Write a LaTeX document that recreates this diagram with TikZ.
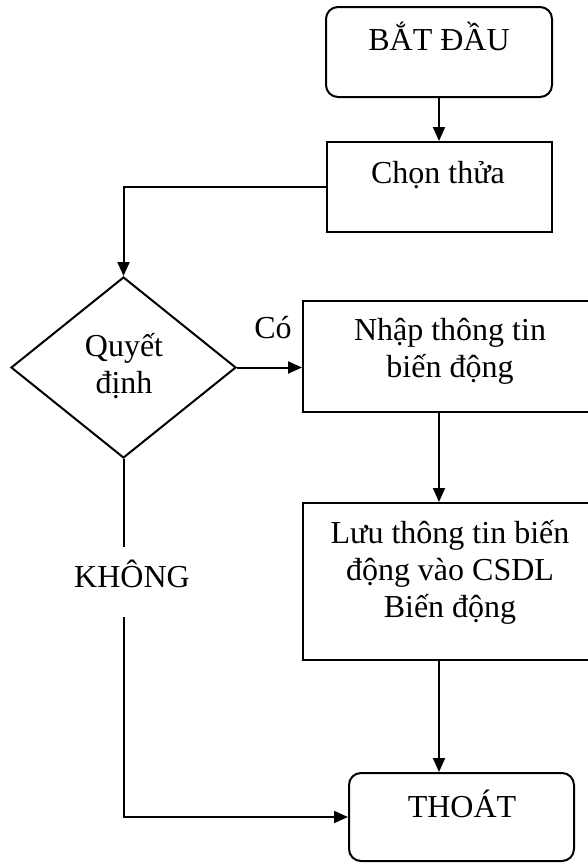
\documentclass[tikz,border=0pt]{standalone}
\usepackage{fontspec}
\setmainfont{Liberation Serif}
\usetikzlibrary{arrows.meta,shapes.geometric}
\begin{document}
\begin{tikzpicture}[x=1pt,y=-1pt,
  line width=2pt,
  flow/.style={-{Triangle[length=14pt,width=12pt]}},
  term/.style={draw,rectangle,rounded corners=12pt,inner sep=0pt},
  proc/.style={draw,rectangle,inner sep=0pt},
  decis/.style={draw,diamond,inner sep=0pt},
  txt/.style={font=\fontsize{32}{37}\selectfont,align=center,anchor=base,inner sep=0pt}]
\useasboundingbox (0,0) rectangle (588,863);
\clip (0,0) rectangle (588,863);

% shapes
\node[term,minimum width=226pt,minimum height=90pt] (start) at (439,52) {};
\node[proc,minimum width=225pt,minimum height=90pt] (choose) at (439.5,187) {};
\node[decis,minimum width=225pt,minimum height=181pt] (dec) at (123.5,367.5) {};
\node[proc,minimum width=297pt,minimum height=111pt] (input) at (451.5,356.5) {};
\node[proc,minimum width=297pt,minimum height=157pt] (save) at (451.5,581.5) {};
\node[term,minimum width=225pt,minimum height=88pt] (exit) at (461.5,817) {};

% texts (base = baseline of the last line)
\node[txt] (tstart) at (439,50) {BẮT ĐẦU};
\node[txt] (tchoose) at (438,183) {Chọn thửa};
\node[txt] (tdec) at (124,393) {Quyết\\định};
\node[txt] (tyes) at (273,338) {Có};
\node[txt] (tinput) at (450,377) {Nhập thông tin\\biến động};
\node[txt] (tsave) at (450,617) {Lưu thông tin biến\\động vào CSDL\\Biến động};
\node[txt] (tno) at (132,587) {KHÔNG};
\node[txt] (texit) at (462,817) {THOÁT};

% connectors
\coordinate (nobreak1) at (123.5,547);
\coordinate (nobreak2) at (123.5,617);
\draw[flow] (start.south) -- (choose.north -| start.south);
\draw[flow] (choose.west) -| (dec.north);
\draw[flow] (dec.east) -- (dec.east -| input.west);
\draw[flow] (input.south -| start.south) -- (save.north -| start.south);
\draw[flow] (save.south -| start.south) -- (exit.north -| start.south);
\draw (dec.south) -- (nobreak1);
\draw[flow] (nobreak2) |- (exit.west);
\end{tikzpicture}
\end{document}
